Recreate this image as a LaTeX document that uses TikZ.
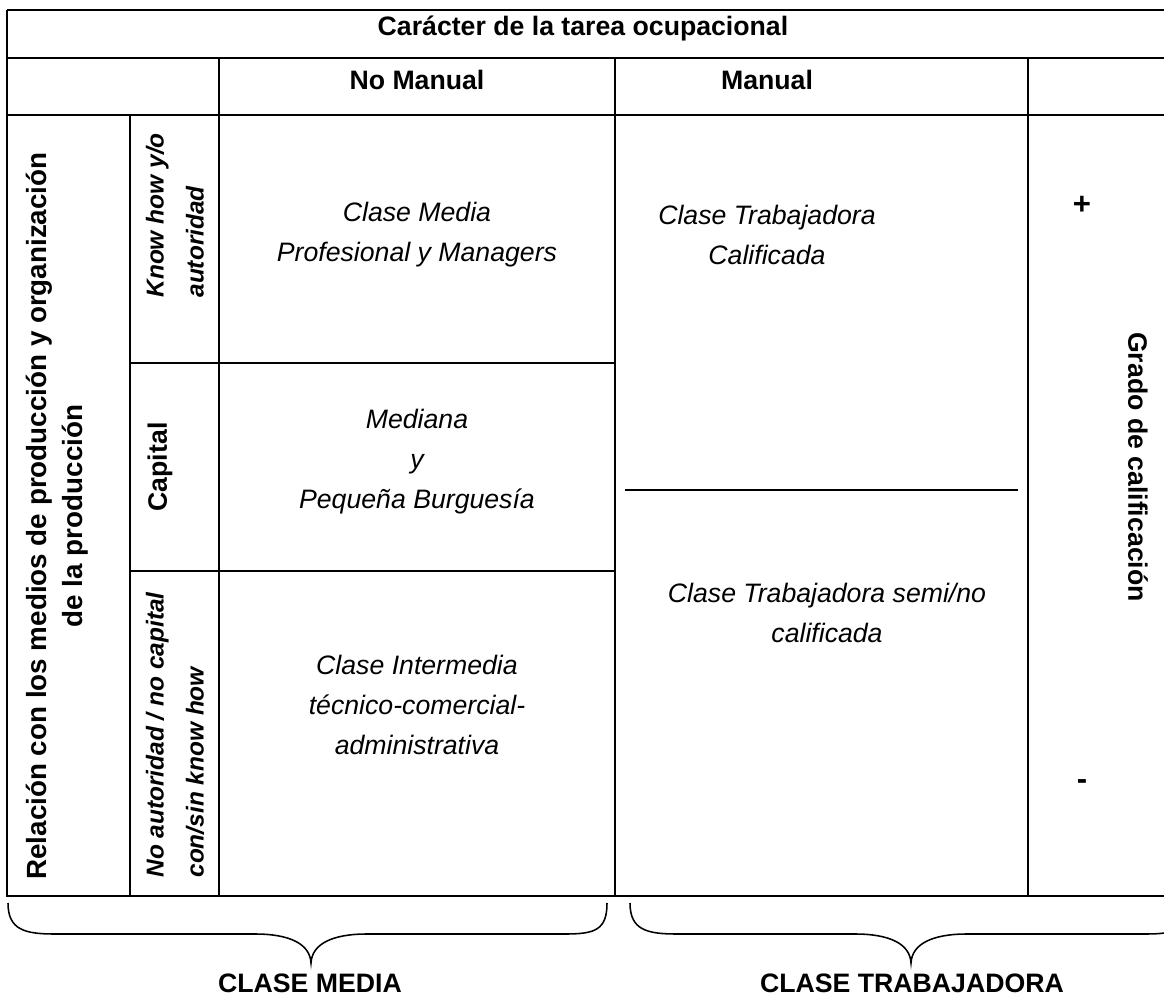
\documentclass[tikz,border=0pt]{standalone}
\usepackage{fontspec}
\setmainfont{Liberation Sans}
\usetikzlibrary{positioning}

\begin{document}
\begin{tikzpicture}[x=0.45pt, y=-0.45pt,
    grid/.style = {line width=1.1pt},
    hdr/.style = {font=\fontsize{12}{14}\selectfont\bfseries, inner sep=0pt},
    cls/.style = {font=\fontsize{12}{18}\selectfont\itshape, align=center, inner sep=0pt},
    side/.style = {font=\fontsize{11}{18}\selectfont\bfseries\itshape, align=left, rotate=90, inner sep=0pt, anchor=west},
    curly/.style = {line width=0.7pt}
]
    \useasboundingbox (0,0) rectangle (1164,997);

    % table frame and rules
    \draw[grid] (7,10) -- (1170,10);
    \draw[grid] (7,10) -- (7,896) -- (1170,896);
    \draw[grid] (7,58) -- (1170,58);
    \draw[grid] (7,115) -- (1170,115);
    \draw[grid] (130,115) -- (130,896);
    \draw[grid] (219,58) -- (219,896);
    \draw[grid] (615,58) -- (615,896);
    \draw[grid] (1028,58) -- (1028,896);
    \draw[grid] (130,363) -- (615,363);
    \draw[grid] (130,571) -- (615,571);
    \draw[grid] (625,490) -- (1018,490);

    % headers
    \node[hdr] (title) at (583,28) {Carácter de la tarea ocupacional};
    \node[hdr] (nomanual) at (417,80) {No Manual};
    \node[hdr] (manual) at (767,80) {Manual};

    % left labels
    \node[hdr, rotate=90, align=center, font=\fontsize{12.5}{16}\selectfont\bfseries] (relacion) at (57,516)
        {Relación con los medios de producción y organización\\de la producción};
    \node[side] (knowhow) at (175,298) {Know how y/o\\autoridad};
    \node[hdr, rotate=90] (capital) at (160,467) {Capital};
    \node[side] (noaut) at (175,878) {No autoridad / no capital\\con/sin know how};

    % class cells
    \node[cls] (media) at (417,235) {Clase Media\\Profesional y Managers};
    \node[cls] (burguesia) at (417,462) {Mediana\\y\\Pequeña Burguesía};
    \node[cls] (intermedia) at (417,705) {Clase Intermedia\\técnico-comercial-\\administrativa};
    \node[cls] (calificada) at (767,235) {Clase Trabajadora\\Calificada};
    \node[cls] (semi) at (827,613) {Clase Trabajadora semi/no\\calificada};

    % qualification scale
    \node[hdr, font=\fontsize{14}{16}\selectfont\bfseries] (mas) at (1082,205) {+};
    \node[hdr, font=\fontsize{14}{16}\selectfont\bfseries] (menos) at (1082,785) {-};
    \node[hdr, rotate=-90] (grado) at (1138,467) {Grado de calificación};

    % braces
    \draw[curly] (8,903) .. controls (8,930) and (25,934) .. (55,934) -- (255,934)
        .. controls (290,934) and (310,944) .. (311,963)
        .. controls (312,944) and (332,934) .. (367,934) -- (565,934)
        .. controls (595,934) and (607,930) .. (607,903);
    \draw[curly] (630,903) .. controls (630,930) and (647,934) .. (677,934) -- (855,934)
        .. controls (890,934) and (910,944) .. (911,963)
        .. controls (912,944) and (932,934) .. (967,934) -- (1145,934)
        .. controls (1175,934) and (1192,930) .. (1192,903);

    \node[hdr] (cmedia) at (310,983) {CLASE MEDIA};
    \node[hdr] (ctrab) at (912,983) {CLASE TRABAJADORA};
\end{tikzpicture}
\end{document}
